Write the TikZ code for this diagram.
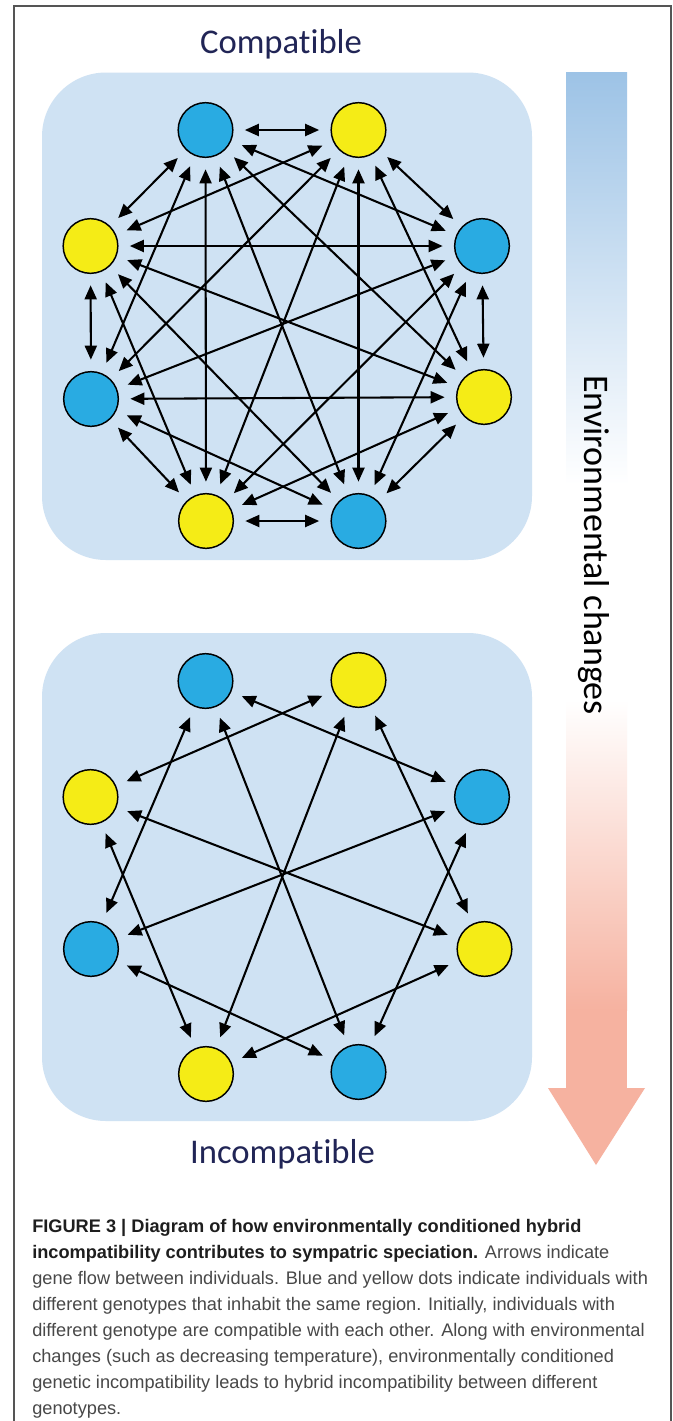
\documentclass[tikz,border=0pt]{standalone}
\usepackage{fontspec}
\setmainfont{Carlito}[Ligatures={NoCommon,NoContextual}]
\newfontfamily\capfont{Liberation Sans}
\usetikzlibrary{arrows.meta}

\definecolor{panelblue}{RGB}{207,226,243}
\definecolor{dotblue}{RGB}{41,171,226}
\definecolor{dotyellow}{RGB}{245,236,22}
\definecolor{titlenavy}{RGB}{33,37,86}
\definecolor{barblue}{RGB}{157,195,230}
\definecolor{barmid}{RGB}{196,219,242}
\definecolor{barpink}{RGB}{246,178,160}
\definecolor{pinkmid}{RGB}{250,214,203}
\definecolor{captiongray}{RGB}{72,72,72}
\definecolor{captionblack}{RGB}{30,30,30}
\definecolor{framegray}{RGB}{85,85,85}

\begin{document}
\begin{tikzpicture}[x=0.75pt,y=-0.75pt,
  panel/.style={fill=panelblue, rounded corners=48pt},
  dot/.style={circle, draw=black, line width=1.1pt, minimum size=41pt, inner sep=0pt, outer sep=9pt},
  bdot/.style={dot, fill=dotblue},
  ydot/.style={dot, fill=dotyellow},
  link/.style={line width=1.55pt, {Triangle[length=10.5pt,width=9pt]}-{Triangle[length=10.5pt,width=9pt]}},
  title/.style={font=\fontsize{26pt}{30pt}\selectfont, text=titlenavy, anchor=base, inner sep=0pt},
  capline/.style={anchor=base west, inner sep=0pt, font=\capfont\fontsize{13.65pt}{19.5pt}\selectfont, text=captiongray}
]
% page and outer frame
\useasboundingbox (0,0) rectangle (673,1421);
\fill[white] (0,0) rectangle (673,1421);
\draw[framegray, line width=1pt] (14,1425) -- (14,6) -- (671,6) -- (671,1425);

% titles
\node[title] (ttop) at (281,53) {Compatible};
\node[title] (tbot) at (282.5,1163) {Incompatible};

% background panels
\fill[panel] (42,72.5) rectangle (532,560);
\fill[panel] (42,633) rectangle (532,1121);

% upper population: every pair exchanges genes
\node[bdot] (a1) at (205.5,130) {};
\node[ydot] (a2) at (358.5,130) {};
\node[bdot] (a3) at (482,246) {};
\node[ydot] (a4) at (484,397) {};
\node[bdot] (a5) at (358.5,521) {};
\node[ydot] (a6) at (206,521) {};
\node[bdot] (a7) at (91,399) {};
\node[ydot] (a8) at (90.5,246) {};
\foreach \i in {1,...,7}{
  \pgfmathtruncatemacro\k{\i+1}
  \foreach \j in {\k,...,8}{
    \draw[link] (a\i) -- (a\j);
  }
}

% lower population: gene flow only within a genotype
\node[bdot] (b1) at (205.5,681) {};
\node[ydot] (b2) at (358.5,680) {};
\node[bdot] (b3) at (482,797) {};
\node[ydot] (b4) at (484.5,949) {};
\node[bdot] (b5) at (358.5,1072) {};
\node[ydot] (b6) at (206,1074) {};
\node[bdot] (b7) at (91,949) {};
\node[ydot] (b8) at (90.5,797) {};
\foreach \i/\j in {1/3,1/5,1/7,3/5,3/7,5/7,2/4,2/6,2/8,4/6,4/8,6/8}{
  \draw[link] (b\i) -- (b\j);
}

% environmental gradient arrow
\shade[top color=barblue, middle color=barmid, bottom color=white] (566,72) rectangle (627,485);
\shade[top color=white, middle color=pinkmid, bottom color=barpink] (566,700) rectangle (627,1010);
\fill[barpink] (566,1009) rectangle (627,1089);
\fill[barpink] (548,1088) -- (645,1088) -- (596,1165) -- cycle;
\node[rotate=-90, anchor=base, inner sep=0pt, font=\fontsize{27pt}{30pt}\selectfont] (envlabel) at (584,545) {Environmental changes};

% caption
\node[capline] (cap1) at (32,1232) {\textcolor{captionblack}{\bfseries FIGURE 3 | Diagram of how environmentally conditioned hybrid}};
\node[capline] (cap2) at (32,1258) {\textcolor{captionblack}{\bfseries incompatibility contributes to sympatric speciation.} Arrows indicate};
\node[capline] (cap3) at (32,1284) {gene flow between individuals. Blue and yellow dots indicate individuals with};
\node[capline] (cap4) at (32,1310) {different genotypes that inhabit the same region. Initially, individuals with};
\node[capline] (cap5) at (32,1336) {different genotype are compatible with each other. Along with environmental};
\node[capline] (cap6) at (32,1362) {changes (such as decreasing temperature), environmentally conditioned};
\node[capline] (cap7) at (32,1388) {genetic incompatibility leads to hybrid incompatibility between different};
\node[capline] (cap8) at (32,1414) {genotypes.};
\end{tikzpicture}
\end{document}
